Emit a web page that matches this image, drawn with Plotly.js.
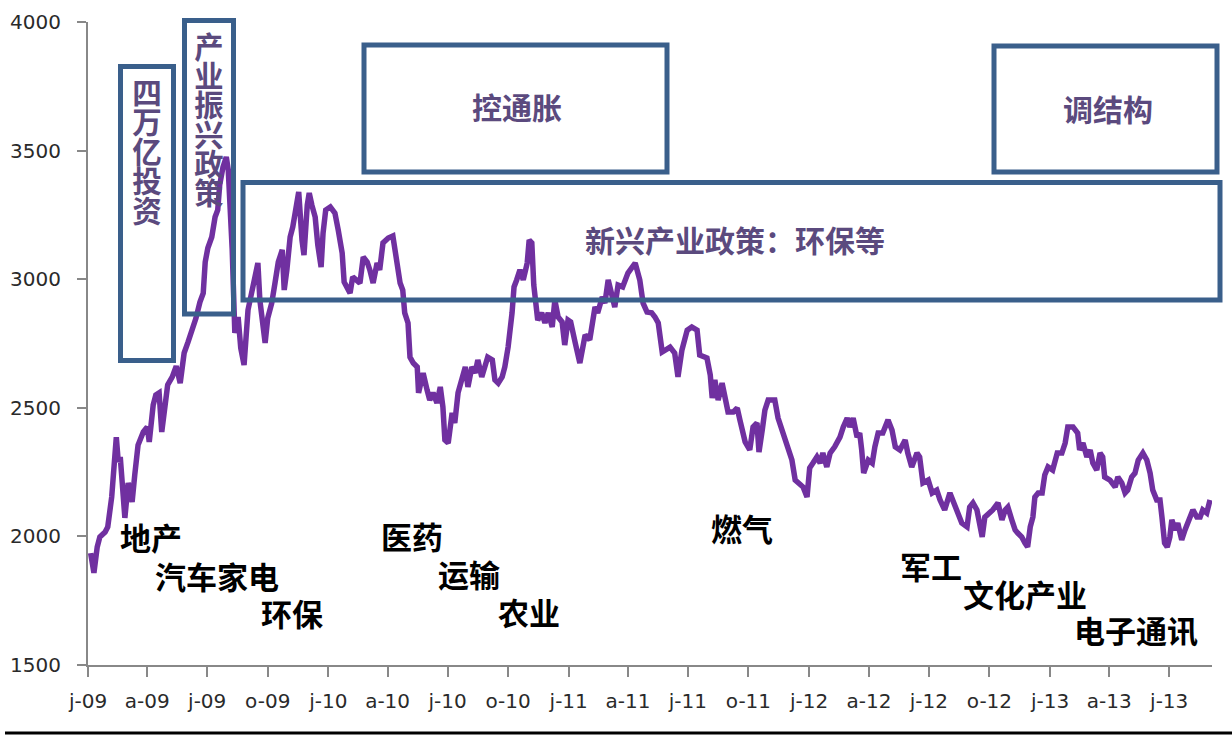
<!DOCTYPE html>
<html>
<head>
<meta charset="utf-8">
<script src="https://cdn.plot.ly/plotly-3.0.1.min.js"></script>
<style>
html,body{margin:0;padding:0;background:#fff;}
#chart{width:1232px;height:736px;}
</style>
</head>
<body>
<div id="chart"></div>
<script>
// ---------- DATA ----------
const dates2009 = ['2009-01-05','2009-01-10','2009-01-15','2009-01-19','2009-01-27','2009-01-31','2009-02-06','2009-02-13','2009-02-16','2009-02-19','2009-02-22','2009-02-26','2009-03-03','2009-03-09','2009-03-13','2009-03-18','2009-03-26','2009-04-01','2009-04-04','2009-04-10','2009-04-14','2009-04-19','2009-04-23','2009-04-28','2009-05-02','2009-05-09','2009-05-15','2009-05-21','2009-05-27','2009-06-02','2009-06-08','2009-06-14','2009-06-20','2009-06-25','2009-06-28','2009-07-02','2009-07-08','2009-07-13','2009-07-17','2009-07-20','2009-07-25','2009-07-30','2009-08-02','2009-08-05','2009-08-08','2009-08-12','2009-08-17','2009-08-21','2009-08-26','2009-09-01','2009-09-07','2009-09-12','2009-09-16','2009-09-19','2009-09-24','2009-09-27','2009-10-01','2009-10-07','2009-10-12','2009-10-17','2009-10-23','2009-10-26','2009-10-30','2009-11-04','2009-11-08','2009-11-14','2009-11-17','2009-11-22','2009-11-25','2009-11-30','2009-12-03','2009-12-07','2009-12-12','2009-12-16','2009-12-21','2009-12-24','2009-12-28'];
const index2009 = [1935,1858,1959,1998,2017,2037,2153,2386,2289,2309,2208,2072,2208,2134,2239,2355,2406,2425,2367,2511,2550,2558,2406,2499,2589,2620,2662,2596,2713,2756,2802,2849,2911,2946,3067,3121,3164,3242,3269,3366,3436,3475,3425,3288,3114,2791,2853,2732,2666,2880,2958,3028,3063,2919,2783,2752,2849,2907,2985,3067,3114,2958,3036,3164,3203,3308,3339,3152,3094,3288,3335,3288,3242,3133,3047,3180,3269];

const dates2010 = ['2010-01-04','2010-01-11','2010-01-16','2010-01-22','2010-01-25','2010-01-29','2010-02-03','2010-02-07','2010-02-14','2010-02-18','2010-02-23','2010-03-01','2010-03-05','2010-03-10','2010-03-16','2010-03-20','2010-03-25','2010-04-02','2010-04-09','2010-04-15','2010-04-20','2010-04-24','2010-04-27','2010-05-02','2010-05-05','2010-05-10','2010-05-16','2010-05-18','2010-05-25','2010-05-31','2010-06-04','2010-06-09','2010-06-15','2010-06-20','2010-06-24','2010-06-27','2010-07-02','2010-07-08','2010-07-12','2010-07-17','2010-07-23','2010-07-28','2010-08-01','2010-08-07','2010-08-12','2010-08-16','2010-08-22','2010-08-27','2010-08-31','2010-09-07','2010-09-11','2010-09-16','2010-09-22','2010-09-26','2010-10-01','2010-10-07','2010-10-10','2010-10-14','2010-10-19','2010-10-24','2010-10-30','2010-11-02','2010-11-06','2010-11-09','2010-11-12','2010-11-15','2010-11-21','2010-11-26','2010-12-01','2010-12-07','2010-12-11','2010-12-16','2010-12-22','2010-12-26','2010-12-31'];
const index2010 = [3281,3257,3191,3102,2989,2970,2946,3009,2997,2985,3086,3067,3036,2985,3063,3036,3141,3160,3168,3047,2985,2958,2869,2830,2697,2674,2659,2558,2635,2569,2530,2558,2519,2581,2503,2375,2363,2480,2441,2558,2608,2659,2581,2659,2635,2686,2620,2659,2697,2686,2608,2596,2620,2659,2736,2869,2970,2997,3036,2997,3063,3152,3141,2977,2892,2841,2869,2830,2869,2814,2919,2853,2834,2744,2841];

const dates2011 = ['2011-01-04','2011-01-11','2011-01-18','2011-01-26','2011-02-02','2011-02-10','2011-02-14','2011-02-21','2011-02-25','2011-03-02','2011-03-08','2011-03-12','2011-03-17','2011-03-24','2011-04-01','2011-04-12','2011-04-19','2011-04-24','2011-04-30','2011-05-07','2011-05-12','2011-05-17','2011-05-23','2011-05-27','2011-06-04','2011-06-11','2011-06-16','2011-06-22','2011-06-30','2011-07-07','2011-07-15','2011-07-19','2011-07-30','2011-08-04','2011-08-07','2011-08-11','2011-08-16','2011-08-22','2011-08-26','2011-08-31','2011-09-08','2011-09-14','2011-09-18','2011-09-26','2011-10-03','2011-10-08','2011-10-14','2011-10-17','2011-10-22','2011-10-26','2011-10-31','2011-11-10','2011-11-15','2011-11-22','2011-11-30','2011-12-06','2011-12-11','2011-12-15','2011-12-23','2011-12-29'];
const index2011 = [2834,2752,2674,2783,2764,2892,2869,2931,2907,2997,2919,2892,2977,2970,3024,3063,2997,2907,2872,2869,2853,2830,2717,2725,2736,2713,2620,2725,2802,2814,2802,2705,2694,2628,2538,2608,2530,2596,2538,2484,2484,2499,2453,2367,2336,2425,2441,2328,2414,2491,2530,2530,2460,2402,2344,2297,2219,2208,2192,2153];

const dates2012 = ['2012-01-02','2012-01-07','2012-01-13','2012-01-18','2012-01-22','2012-01-28','2012-02-02','2012-02-09','2012-02-17','2012-02-22','2012-02-28','2012-03-03','2012-03-08','2012-03-14','2012-03-18','2012-03-21','2012-03-24','2012-03-31','2012-04-06','2012-04-10','2012-04-15','2012-04-22','2012-04-30','2012-05-06','2012-05-11','2012-05-18','2012-05-26','2012-05-30','2012-06-05','2012-06-13','2012-06-17','2012-06-22','2012-06-30','2012-07-06','2012-07-13','2012-07-18','2012-07-25','2012-08-02','2012-08-07','2012-08-14','2012-08-20','2012-08-28','2012-09-01','2012-09-06','2012-09-12','2012-09-17','2012-09-20','2012-09-24','2012-10-02','2012-10-06','2012-10-14','2012-10-20','2012-10-25','2012-10-29','2012-11-04','2012-11-09','2012-11-13','2012-11-19','2012-11-24','2012-11-28','2012-12-02','2012-12-06','2012-12-09','2012-12-14','2012-12-20','2012-12-24','2012-12-29'];
const index2012 = [2266,2285,2309,2285,2324,2270,2324,2348,2386,2425,2460,2425,2460,2386,2402,2336,2246,2297,2285,2348,2402,2402,2453,2414,2348,2336,2375,2324,2270,2324,2309,2208,2219,2169,2180,2142,2103,2169,2130,2091,2052,2037,2114,2130,2103,2037,1998,2075,2091,2103,2130,2064,2103,2114,2064,2025,2013,1998,1974,1959,2037,2075,2153,2169,2169,2239,2270];

const dates2013 = ['2013-01-05','2013-01-12','2013-01-19','2013-01-24','2013-01-28','2013-02-05','2013-02-12','2013-02-15','2013-02-20','2013-02-26','2013-03-03','2013-03-07','2013-03-13','2013-03-18','2013-03-22','2013-03-25','2013-04-02','2013-04-10','2013-04-14','2013-04-20','2013-04-25','2013-04-29','2013-05-05','2013-05-10','2013-05-15','2013-05-22','2013-05-28','2013-06-02','2013-06-06','2013-06-12','2013-06-17','2013-06-20','2013-06-24','2013-06-28','2013-07-02','2013-07-05','2013-07-10','2013-07-14','2013-07-20','2013-07-25','2013-07-29','2013-08-06','2013-08-12','2013-08-17','2013-08-21','2013-08-27','2013-09-01'];
const index2013 = [2258,2324,2324,2363,2425,2425,2402,2336,2363,2309,2336,2285,2258,2324,2309,2231,2219,2192,2231,2208,2169,2180,2231,2246,2297,2324,2297,2246,2180,2142,2142,2075,1974,1959,1998,2064,2025,2052,1986,2025,2052,2103,2075,2075,2103,2091,2142];

const tickDates = ['2009-01-01','2009-04-01','2009-07-01','2009-10-01','2010-01-01','2010-04-01','2010-07-01','2010-10-01','2011-01-01','2011-04-01','2011-07-01','2011-10-01','2012-01-01','2012-04-01','2012-07-01','2012-10-01','2013-01-01','2013-04-01','2013-07-01'];
const tickLabels = ['j-09','a-09','j-09','o-09','j-10','a-10','j-10','o-10','j-11','a-11','j-11','o-11','j-12','a-12','j-12','o-12','j-13','a-13','j-13'];

const policyVertical = ['四万亿投资', '产业振兴政策'];
const policyHorizontal = ['控通胀', '调结构', '新兴产业政策：环保等'];
const sectorLabels = ['地产','汽车家电','环保','医药','运输','农业','燃气','军工','文化产业','电子通讯'];

// ---------- LAYOUT HELPERS (pixel -> paper) ----------
const PL = 88, PR = 1212, PT = 22, PB = 665;
const px = x => (x - PL) / (PR - PL);
const py = y => (PB - y) / (PB - PT);

const dates = [].concat(dates2009, dates2010, dates2011, dates2012, dates2013);
const values = [].concat(index2009, index2010, index2011, index2012, index2013);

const trace = {
  x: dates, y: values, type: 'scatter', mode: 'lines',
  line: {color: '#7030a0', width: 5.5}, hoverinfo: 'skip', showlegend: false
};

const boxColor = '#3a5f8b';
const boxText = '#5b4a7e';
const cjk = '"Noto Sans CJK SC", "Noto Sans CJK JP", sans-serif';

function rect(x0, y0, x1, y1) {
  return {type: 'rect', xref: 'paper', yref: 'paper',
    x0: px(x0), x1: px(x1), y0: py(y1), y1: py(y0),
    line: {color: boxColor, width: 5}, fillcolor: 'rgba(0,0,0,0)', layer: 'above'};
}

const shapes = [
  rect(120.5, 66.5, 173.5, 360.5),
  rect(184.5, 20.5, 233.5, 314),
  rect(364, 45, 667, 172),
  rect(994, 46, 1217, 172),
  rect(243, 182.5, 1220, 300),
  {type: 'line', xref: 'paper', yref: 'paper', x0: px(5), x1: px(1232), y0: py(733), y1: py(733),
   line: {color: '#000', width: 3}}
];

const annotations = [];
function addText(t, x, y, color, size) {
  annotations.push({text: '<b>' + t + '</b>', xref: 'paper', yref: 'paper', x: px(x), y: py(y),
    xanchor: 'center', yanchor: 'middle', showarrow: false,
    font: {family: cjk, size: size, color: color}});
}
// vertical policy texts (set to vertical writing mode after drawing)
const vertSpec = [{x: 147, y: 151, size: 29.6}, {x: 209, y: 120, size: 29.3}];
policyVertical.forEach((s, i) => addText(s, vertSpec[i].x, vertSpec[i].y, boxText, vertSpec[i].size));

const horizPos = [[517, 106], [1108, 108], [735, 239]];
policyHorizontal.forEach((s, i) => addText(s, horizPos[i][0], horizPos[i][1], boxText, 30));

const sectorPos = [[151, 536], [217, 575], [292, 612], [412, 535], [469, 573], [529, 611], [742, 527], [931, 565], [1025, 593], [1136, 629]];
sectorLabels.forEach((s, i) => addText(s, sectorPos[i][0], sectorPos[i][1], '#000', 31));

const tickFont = {family: '"DejaVu Sans", Verdana, sans-serif', size: 20, color: '#2a2a2a'};

const layout = {
  width: 1232, height: 736,
  margin: {l: PL, r: 1232 - PR, t: PT, b: 736 - PB},
  paper_bgcolor: '#fff', plot_bgcolor: '#fff',
  showlegend: false,
  xaxis: {
    type: 'date', range: ['2009-01-01', '2013-09-04'],
    tickmode: 'array', tickvals: tickDates, ticktext: tickLabels,
    showgrid: false, zeroline: false,
    showline: true, linecolor: '#888', linewidth: 2,
    ticks: 'outside', ticklen: 10, tickcolor: '#888', tickwidth: 2,
    tickfont: tickFont, ticklabelstandoff: 7
  },
  yaxis: {
    range: [1500, 4000], dtick: 500, tick0: 1500,
    showgrid: false, zeroline: false,
    showline: true, linecolor: '#888', linewidth: 2,
    ticks: 'outside', ticklen: 9, tickcolor: '#888', tickwidth: 2,
    tickfont: tickFont, ticklabelstandoff: 12
  },
  shapes: shapes,
  annotations: annotations
};

Plotly.newPlot('chart', [trace], layout, {displayModeBar: false, staticPlot: true}).then(gd => {
  // turn the first two annotations into upright vertical (top-to-bottom) Chinese text
  gd.querySelectorAll('.annotation').forEach(g => {
    const idx = +g.getAttribute('data-index');
    if (idx > 1) return;
    const txt = g.querySelector('text.annotation-text');
    if (!txt) return;
    const bb = txt.getBBox();
    const cx = bb.x + bb.width / 2, cy = bb.y + bb.height / 2;
    txt.style.writingMode = 'vertical-rl';
    txt.style.textOrientation = 'upright';
    txt.setAttribute('text-anchor', 'middle');
    txt.setAttribute('x', cx);
    txt.setAttribute('y', cy);
    txt.querySelectorAll('tspan').forEach(t => { t.removeAttribute('x'); t.removeAttribute('y'); t.removeAttribute('dy'); });
    const bg = g.querySelector('rect.bg');
    if (bg) bg.setAttribute('width', 0);
  });
});
</script>
</body>
</html>
